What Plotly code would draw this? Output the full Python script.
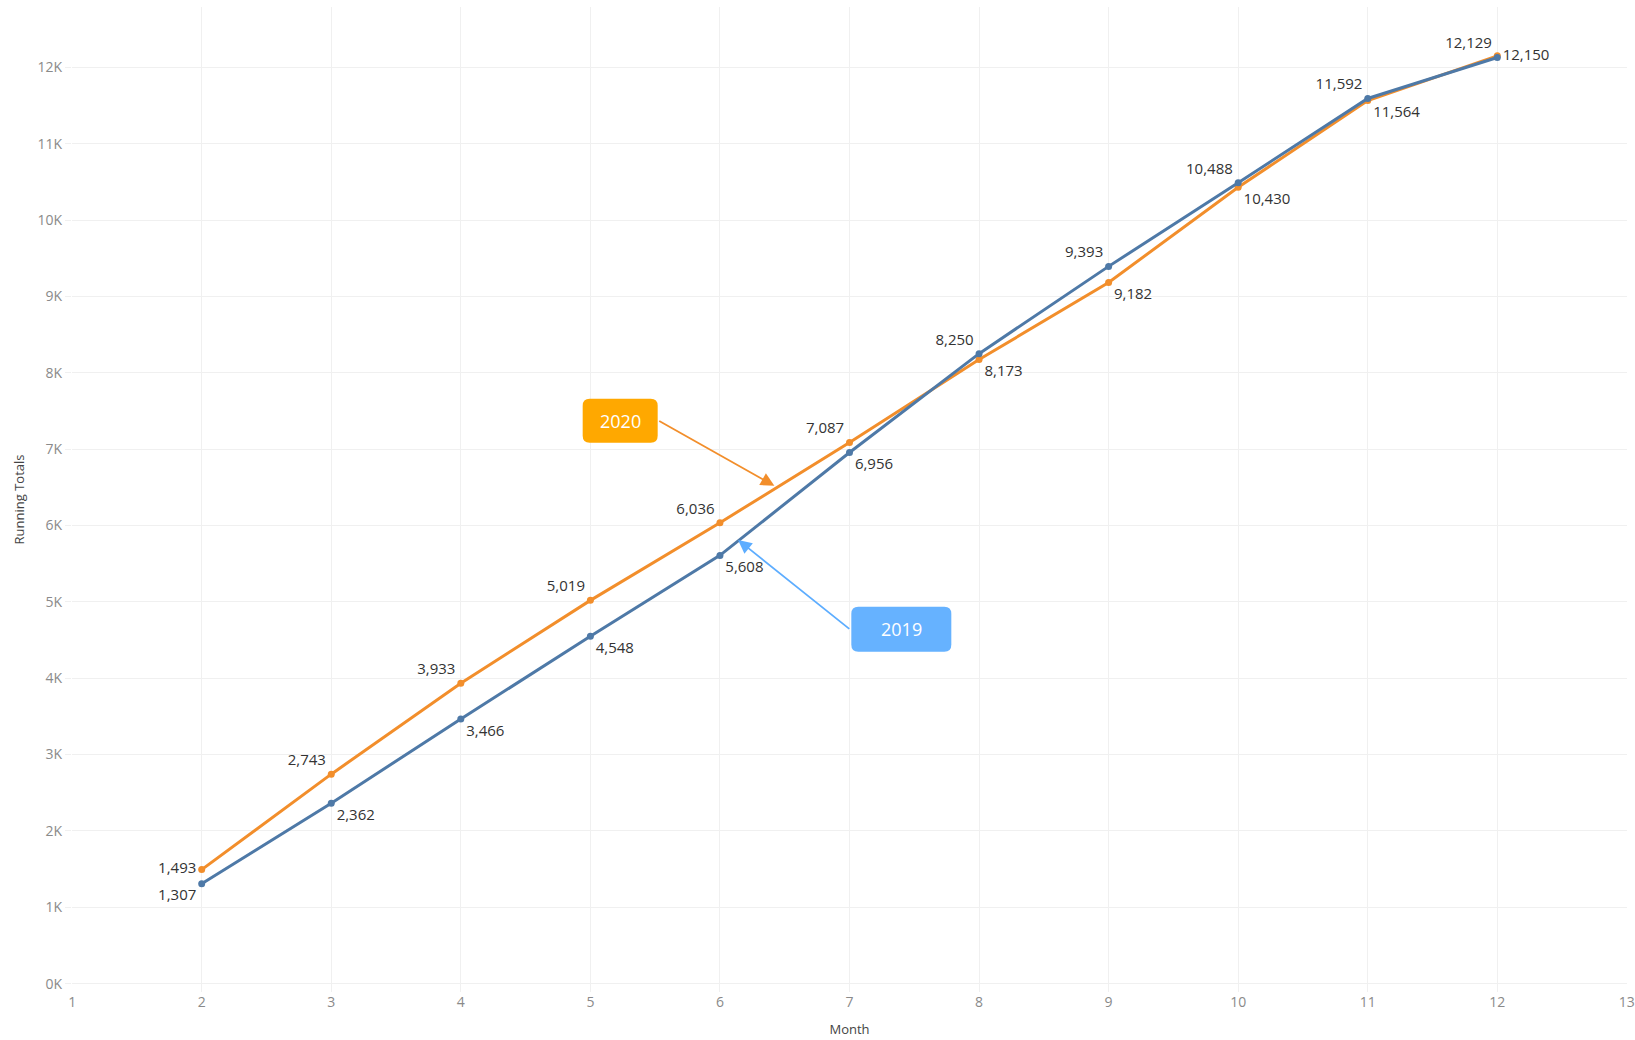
import plotly.graph_objects as go

# running totals per month
months = [2, 3, 4, 5, 6, 7, 8, 9, 10, 11, 12]
totals_2019 = [1307, 2362, 3466, 4548, 5608, 6956, 8250, 9393, 10488, 11592, 12129]
totals_2020 = [1493, 2743, 3933, 5019, 6036, 7087, 8173, 9182, 10430, 11564, 12150]

pos_2019 = ["bottom left"] + ["bottom right"] * 5 + ["top left"] * 5
pos_2020 = ["middle left"] + ["top left"] * 5 + ["bottom right"] * 4 + ["middle right"]

x_ticks = list(range(1, 14))
y_ticks = list(range(0, 13000, 1000))
y_labels = [f"{v // 1000}K" for v in y_ticks]

BLUE = "#4e79a7"
ORANGE = "#f28e2b"
FONT = "Open Sans, Lato, sans-serif"

fig = go.Figure()

fig.add_trace(go.Scatter(
    x=months, y=totals_2020, name="2020",
    mode="lines+markers+text",
    line=dict(color=ORANGE, width=3),
    marker=dict(color=ORANGE, size=7),
    text=[f"{v:,}" for v in totals_2020],
    textposition=pos_2020,
    textfont=dict(size=15, color="#333333", family=FONT),
    cliponaxis=False,
))
fig.add_trace(go.Scatter(
    x=months, y=totals_2019, name="2019",
    mode="lines+markers+text",
    line=dict(color=BLUE, width=3),
    marker=dict(color=BLUE, size=7),
    text=[f"{v:,}" for v in totals_2019],
    textposition=pos_2019,
    textfont=dict(size=15, color="#333333", family=FONT),
    cliponaxis=False,
))


def rounded_box(w, h, r):
    # path in pixels, centred on the anchor
    x0, x1, y0, y1 = -w / 2, w / 2, -h / 2, h / 2
    return (f"M{x0 + r},{y0} L{x1 - r},{y0} Q{x1},{y0} {x1},{y0 + r} "
            f"L{x1},{y1 - r} Q{x1},{y1} {x1 - r},{y1} L{x0 + r},{y1} "
            f"Q{x0},{y1} {x0},{y1 - r} L{x0},{y0 + r} Q{x0},{y0} {x0 + r},{y0} Z")


# callout boxes: (label, centre x, centre y, width, height, fill, arrow colour, tail, tip)
callouts = [
    ("2020", 5.23, 7370, 75, 44, "#ffa800", ORANGE, (5.52, 7380), (6.42, 6520)),
    ("2019", 7.40, 4640, 100, 45, "#66b2ff", "#5dadff", (7.01, 4630), (6.14, 5810)),
]
for label, cx, cy, w, h, fill, acol, tail, tip in callouts:
    fig.add_annotation(
        x=tip[0], y=tip[1], ax=tail[0], ay=tail[1],
        xref="x", yref="y", axref="x", ayref="y",
        showarrow=True, arrowhead=2, arrowsize=1.5, arrowwidth=1.8,
        arrowcolor=acol, text="",
    )
    fig.add_shape(
        type="path", xref="x", yref="y",
        xsizemode="pixel", ysizemode="pixel",
        xanchor=cx, yanchor=cy,
        path=rounded_box(w, h, 7),
        fillcolor=fill, line=dict(width=0), layer="above",
    )
    fig.add_annotation(
        x=cx, y=cy, xref="x", yref="y", text=label, showarrow=False,
        font=dict(size=18, color="white", family=FONT),
    )

fig.update_layout(
    width=1635, height=1040,
    margin=dict(l=72, r=8, t=7, b=48),
    paper_bgcolor="white", plot_bgcolor="white",
    showlegend=False,
    font=dict(family=FONT, color="#888888"),
)
fig.update_xaxes(
    range=[0.999, 13.001], tickvals=x_ticks,
    showgrid=True, gridcolor="#f0f0f0", gridwidth=1,
    zeroline=False, showline=False, ticks="",
    tickfont=dict(size=14, color="#8a8a8a"),
    title=dict(text="Month", font=dict(size=13, color="#444444"), standoff=14),
    automargin=False,
)
fig.update_yaxes(
    range=[-110, 12790], tickvals=y_ticks, ticktext=y_labels,
    showgrid=True, gridcolor="#f0f0f0", gridwidth=1,
    zeroline=False, showline=False, ticks="outside", ticklen=6, tickcolor="#f0f0f0",
    tickfont=dict(size=14, color="#8a8a8a"),
    title=dict(text="Running Totals", font=dict(size=13, color="#444444"), standoff=10),
)

# the page's default body margin would push the figure 8px down and right
fig.write_html("out.html", config={"displayModeBar": False},
               post_script="document.body.style.margin='0';")
